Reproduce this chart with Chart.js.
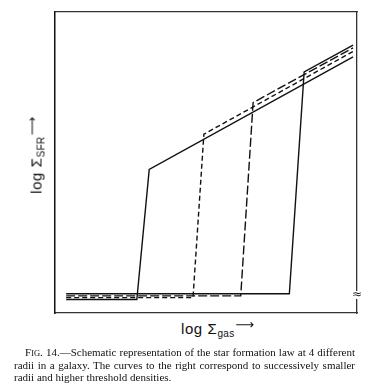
<!DOCTYPE html>
<html>
<head>
<meta charset="utf-8">
<script src="https://cdn.jsdelivr.net/npm/chart.js@4/dist/chart.umd.min.js"></script>
<style>
  html, body { margin: 0; padding: 0; background: #fff; }
  #page { position: relative; width: 376px; height: 388px; overflow: hidden; background: #fff; }
  #wrap { position: absolute; left: 0; top: 0; width: 376px; height: 320px; }
  .axlab { position: absolute; font-family: "Liberation Sans", Arial, sans-serif; color: #111; white-space: nowrap; font-size: 15px; letter-spacing: 0.6px; }
  .axlab sub { font-size: 10px; vertical-align: -3px; letter-spacing: 0.3px; }
  .axlab .arr { font-family: "DejaVu Sans", sans-serif; font-size: 13px; position: relative; top: -5px; margin-left: 1px; }
  #xlab { left: 181px; top: 320px; }
  #ylab { left: 37px; top: 155px; transform: translate(-50%, -50%) rotate(-90deg); transform-origin: center center; }
  #caption { position: absolute; left: 14px; top: 347px; width: 341px; font-family: "Liberation Serif", "Times New Roman", serif; font-size: 11px; line-height: 11.8px; color: #111; }
  #caption div { text-align: justify; text-align-last: justify; white-space: nowrap; }
  #caption div.last { text-align-last: left; }
  #caption .l1 { padding-left: 11px; }
  .sc { font-size: 8.5px; }
</style>
</head>
<body>
<div id="page">
  <div id="wrap"><canvas id="c"></canvas></div>
  <div class="axlab" id="xlab">log Σ<sub>gas</sub><span class="arr">⟶</span></div>
  <div class="axlab" id="ylab">log Σ<sub>SFR</sub><span class="arr">⟶</span></div>
  <div id="caption">
    <div class="l1">F<span class="sc">IG</span>. 14.—Schematic representation of the star formation law at 4 different</div>
    <div>radii in a galaxy. The curves to the right correspond to successively smaller</div>
    <div class="last">radii and higher threshold densities.</div>
  </div>
</div>
<script>
// Schematic star-formation law at 4 radii (arbitrary log units, 0..10)
const curve1X = [0.37, 2.71, 3.12, 9.87];
const curve1Y = [0.45, 0.45, 4.77, 8.51];
const curve2X = [0.37, 4.57, 4.93, 9.87];
const curve2Y = [0.51, 0.51, 5.94, 8.69];
const curve3X = [0.37, 6.15, 6.56, 9.87];
const curve3Y = [0.57, 0.57, 6.99, 8.81];
const curve4X = [0.37, 7.76, 8.25, 9.87];
const curve4Y = [0.64, 0.64, 8.01, 8.90];
const breakMarkY = 0.6;

function pts(xs, ys) { return xs.map((x, i) => ({ x: x, y: ys[i] })); }

const lineBase = { showLine: true, pointRadius: 0, borderColor: '#111', borderWidth: 1.4, tension: 0, fill: false };

const breakPlugin = {
  id: 'breakMark',
  afterDraw(chart) {
    const ctx = chart.ctx;
    const xr = chart.scales.x.right;
    const py = chart.scales.y.getPixelForValue(breakMarkY);
    ctx.save();
    ctx.fillStyle = '#fff';
    ctx.fillRect(xr - 4, py - 4, 8, 8);
    ctx.fillStyle = '#222';
    ctx.font = '12px "DejaVu Sans", sans-serif';
    ctx.textAlign = 'center';
    ctx.textBaseline = 'middle';
    ctx.fillText('≈', xr, py);
    ctx.restore();
  }
};

const axisCommon = {
  type: 'linear', min: 0, max: 10,
  ticks: { display: false },
  grid: { display: false, drawTicks: false },
  border: { display: true, color: '#333', width: 1.3 }
};

new Chart(document.getElementById('c'), {
  type: 'scatter',
  data: {
    datasets: [
      Object.assign({ label: 'r1', data: pts(curve1X, curve1Y) }, lineBase),
      Object.assign({ label: 'r2', data: pts(curve2X, curve2Y), borderDash: [5, 3] }, lineBase),
      Object.assign({ label: 'r3', data: pts(curve3X, curve3Y), borderDash: [9, 3] }, lineBase),
      Object.assign({ label: 'r4', data: pts(curve4X, curve4Y) }, lineBase)
    ]
  },
  options: {
    responsive: true, maintainAspectRatio: false, animation: false,
    layout: { padding: { left: 55, top: 12, right: 19, bottom: 7 } },
    plugins: { legend: { display: false }, tooltip: { enabled: false } },
    scales: {
      x: Object.assign({}, axisCommon, { position: 'bottom' }),
      x2: Object.assign({}, axisCommon, { position: 'top' }),
      y: Object.assign({}, axisCommon, { position: 'left', border: { display: true, color: '#111', width: 1.5 } }),
      y2: Object.assign({}, axisCommon, { position: 'right' })
    }
  },
  plugins: [breakPlugin]
});
</script>
</body>
</html>
